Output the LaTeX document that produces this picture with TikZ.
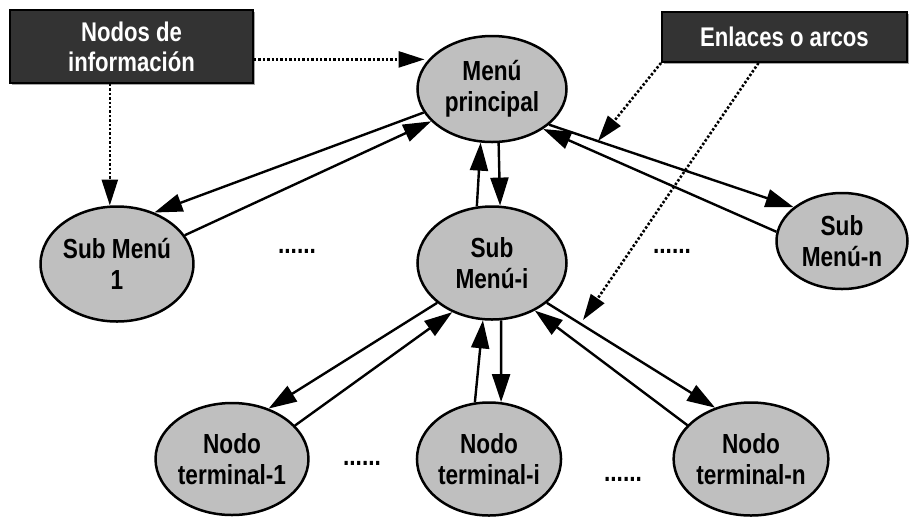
\documentclass[tikz,border=0pt]{standalone}
\usepackage{fontspec}
\setmainfont{Liberation Sans}[FakeStretch=0.82]
\usetikzlibrary{shapes.geometric,arrows.meta,shadows}

\begin{document}
\begin{tikzpicture}[x=0.5pt, y=-0.5pt,
                        every node/.style={font=\bfseries\fontsize{13.8}{15.5}\selectfont, align=center},
                        menu/.style={ellipse, draw=black, line width=1.25pt, fill=black!25, inner sep=0pt},
                        etiqueta/.style={rectangle, draw=black, line width=1pt, fill=black!80, text=white,
                                         drop shadow={shadow xshift=1pt, shadow yshift=-1pt, fill=black!35, opacity=1}},
                        enlace/.style={-{Triangle[length=14pt, width=9pt]}, line width=1.2pt},
                        guia/.style={-{Triangle[length=13pt, width=8pt]}, line width=1.3pt, dash pattern=on 1.2pt off 1pt}]

                        \useasboundingbox (0,0) rectangle (912,516);

                        % Menus
                        \node[menu, minimum width=74.5pt, minimum height=53pt] (MP) at (492,89) {Menú\\principal}; % Root
                        \node[menu, minimum width=74.5pt, minimum height=57.5pt] (S1) at (117,264) {Sub Menú\\1};
                        \node[menu, minimum width=74.5pt, minimum height=56.5pt] (SI) at (492,263) {Sub\\Menú-i};
                        \node[menu, minimum width=65.5pt, minimum height=48pt] (SN) at (842,241) {Sub\\Menú-n};

                        % Terminal nodes
                        \node[menu, minimum width=73.5pt, minimum height=56pt] (T1) at (232,459) {Nodo\\terminal-1};
                        \node[menu, minimum width=71pt, minimum height=56.5pt] (TI) at (489,459) {Nodo\\terminal-i};
                        \node[menu, minimum width=74pt, minimum height=56.5pt] (TN) at (751,459) {Nodo\\terminal-n};

                        % Dots between siblings
                        \node[anchor=base] (d1) at (297,253) {......};
                        \node[anchor=base] (d2) at (672,253) {......};
                        \node[anchor=base] (d3) at (362,465) {......};
                        \node[anchor=base] (d4) at (623,481) {......};

                        % Labels
                        \node[etiqueta, minimum width=121.5pt, minimum height=36.5pt, font=\bfseries\fontsize{13.5}{15}\selectfont] (info) at (131.5,46.5) {Nodos de\\información};
                        \node[etiqueta, minimum width=122.5pt, minimum height=25pt, font=\bfseries\fontsize{13.5}{15}\selectfont] (enl) at (784.5,37) {Enlaces o arcos};
                        \coordinate (p1) at (598,141);
                        \coordinate (p2) at (583,320);

                        % Links
                        \path [enlace](MP.199) edge (S1.54);
                        \path [enlace](S1.23) edge (MP.208);
                        \path [enlace](SI.105) edge (MP.258);
                        \path [enlace](MP.277) edge (SI.82);
                        \path [enlace](MP.328) edge (SN.145);
                        \path [enlace](SN.172) edge (MP.322);
                        \path [enlace](SI.216) edge (T1.54);
                        \path [enlace](T1.28) edge (SI.231);
                        \path [enlace](TI.104) edge (SI.261);
                        \path [enlace](SI.279) edge (TI.78);
                        \path [enlace](SI.324) edge (TN.125);
                        \path [enlace](TN.152) edge (SI.312);

                        % Pointers from the labels
                        \path [guia, shorten >=2pt](info.east |- MP.155) edge (MP.155);
                        \path [guia](info.south -| S1.97) edge (S1.97);
                        \path [guia](enl.south west) edge (p1);
                        \path [guia]([xshift=-13pt]enl.south) edge (p2);
                    \end{tikzpicture}
\end{document}
